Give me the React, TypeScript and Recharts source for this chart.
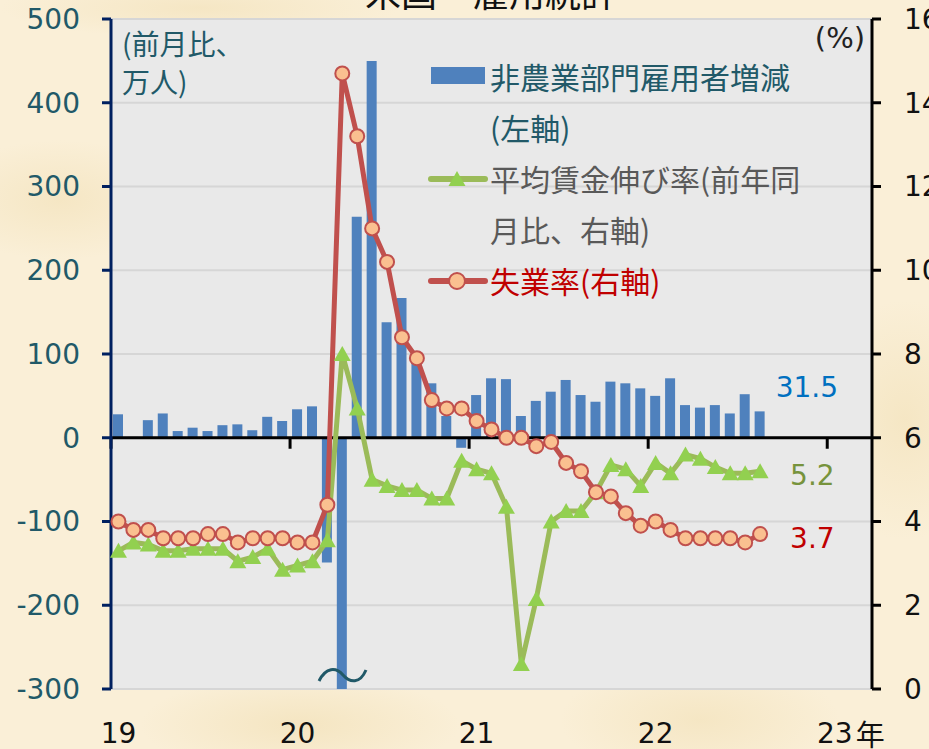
import React from "react";
import {
  ComposedChart,
  Bar,
  Line,
  XAxis,
  YAxis,
  CartesianGrid,
  ReferenceLine,
  Legend,
  LabelList,
} from "recharts";

// monthly, Jan 2019 .. Aug 2022
const payrolls = [
  28, 1, 21, 29, 8, 12, 8, 15, 16, 9, 25, 20,
  34, 37.5, -149, -2050, 264, 450, 138, 167, 90, 65, 26, -12,
  51, 71, 70, 26, 44, 55, 69, 51, 43, 67, 65, 59,
  50, 71, 39, 36, 39, 29, 52, 31.5,
];
const wageGrowth = [
  3.3, 3.5, 3.45, 3.3, 3.3, 3.35, 3.35, 3.35, 3.05, 3.15, 3.35, 2.85,
  2.95, 3.05, 3.55, 8.0, 6.7, 5.0, 4.85, 4.75, 4.75, 4.55, 4.55, 5.45,
  5.25, 5.15, 4.35, 0.6, 2.15, 4.0, 4.25, 4.25, 4.7, 5.35, 5.25, 4.85,
  5.4, 5.15, 5.6, 5.5, 5.3, 5.15, 5.15, 5.2,
];
const unemployment = [
  4.0, 3.8, 3.8, 3.6, 3.6, 3.6, 3.7, 3.7, 3.5, 3.6, 3.6, 3.6,
  3.5, 3.5, 4.4, 14.7, 13.2, 11.0, 10.2, 8.4, 7.9, 6.9, 6.7, 6.7,
  6.4, 6.2, 6.0, 6.0, 5.8, 5.9, 5.4, 5.2, 4.7, 4.6, 4.2, 3.9,
  4.0, 3.8, 3.6, 3.6, 3.6, 3.6, 3.5, 3.7,
];
const yearLabels = ["19", "20", "21", "22", "23"];
const leftTicks = [-300, -200, -100, 0, 100, 200, 300, 400, 500];
const rightTicks = [0, 2, 4, 6, 8, 10, 12, 14, 16];
const X_DOMAIN: [number, number] = [0, 51];

const data = payrolls.map((v, i) => ({
  x: i + 0.5,
  nfp: v,
  wage: wageGrowth[i],
  ur: unemployment[i],
}));
const last = payrolls.length - 1;
const yearStarts = yearLabels.map((_, i) => i * 12);

const JP = '"Noto Sans CJK JP", sans-serif';
const NUM = '"DejaVu Sans", sans-serif';
const TEAL = "#215968";

// paper-like backdrop
const paper = [
  "radial-gradient(ellipse 120px 60px at 60px 200px, rgba(236,214,160,0.35), transparent)",
  "radial-gradient(ellipse 160px 50px at 300px 725px, rgba(236,214,160,0.4), transparent)",
  "radial-gradient(ellipse 140px 60px at 700px 720px, rgba(236,214,160,0.35), transparent)",
  "radial-gradient(ellipse 90px 120px at 905px 420px, rgba(236,214,160,0.35), transparent)",
  "radial-gradient(ellipse 200px 30px at 200px 8px, rgba(236,214,160,0.35), transparent)",
  "#FAEFD7",
].join(", ");

function YearTick(props: any) {
  const { x, y, payload } = props;
  const i = Math.round((payload.value - 0.5) / 12);
  return (
    <g>
      <text x={x} y={y + 44} textAnchor="middle" dominantBaseline="central" fontFamily={NUM} fontSize={28} fill="#111">
        {yearLabels[i]}
      </text>
      {i === yearLabels.length - 1 && (
        <text x={x + 21} y={y + 44} dominantBaseline="central" fontFamily={JP} fontSize={29} fill="#111">
          年
        </text>
      )}
    </g>
  );
}

// zero line doubles as the x axis: draw it with the year ticks hanging below
function ZeroAxis(props: any) {
  const { x1, x2, y1 } = props;
  const span = X_DOMAIN[1] - X_DOMAIN[0];
  return (
    <g>
      <line x1={x1} x2={x2} y1={y1} y2={y1} stroke="#000" strokeWidth={3} />
      {yearStarts.map((m) => {
        const tx = x1 + ((x2 - x1) * (m - X_DOMAIN[0])) / span;
        return <line key={m} x1={tx} x2={tx} y1={y1} y2={y1 + 11} stroke="#000" strokeWidth={3} />;
      })}
    </g>
  );
}

function Triangle(props: any) {
  const { cx, cy, index } = props;
  if (cx == null || cy == null) return <g key={index} />;
  return (
    <path
      key={index}
      d={`M${cx},${cy - 8} L${cx + 8.5},${cy + 7} L${cx - 8.5},${cy + 7} Z`}
      fill="#92D050"
    />
  );
}

const endLabel = (color: string, dx: number, dy: number, fmt: (v: number) => string) =>
  (props: any) => {
    if (props.index !== last) return null;
    const vb = props.viewBox || {};
    const x = (props.x ?? vb.x) + (props.width ?? vb.width ?? 0);
    const y = props.y ?? vb.y;
    return (
      <text x={x + dx} y={y + dy} dominantBaseline="central" fontFamily={NUM} fontSize={28} fill={color}>
        {fmt(props.value)}
      </text>
    );
  };

function LegendBox() {
  const row: React.CSSProperties = { height: 51, display: "flex", alignItems: "center", whiteSpace: "nowrap" };
  const icon = { width: 62, height: 51, flex: "none" as const };
  return (
    <div style={{ fontFamily: JP, fontSize: 30, lineHeight: "51px" }}>
      <div style={{ ...row, color: TEAL }}>
        <svg style={icon}>
          <rect x={3} y={16} width={54} height={17} fill="#4F81BD" />
        </svg>
        非農業部門雇用者増減
      </div>
      <div style={{ ...row, color: TEAL, paddingLeft: 62 }}>(左軸)</div>
      <div style={{ ...row, color: "#595959" }}>
        <svg style={icon}>
          <line x1={3} x2={57} y1={26} y2={26} stroke="#9BBB59" strokeWidth={6} strokeLinecap="round" />
          <path d="M29,18 L37.5,33 L20.5,33 Z" fill="#92D050" />
        </svg>
        平均賃金伸び率(前年同
      </div>
      <div style={{ ...row, color: "#595959", paddingLeft: 62 }}>月比、右軸)</div>
      <div style={{ ...row, color: "#C00000" }}>
        <svg style={icon}>
          <line x1={3} x2={57} y1={26} y2={26} stroke="#C0504D" strokeWidth={6} strokeLinecap="round" />
          <circle cx={29} cy={26} r={8} fill="#FAC090" stroke="#C0504D" strokeWidth={2} />
        </svg>
        失業率(右軸)
      </div>
    </div>
  );
}

export default function App() {
  return (
    <div style={{ position: "absolute", left: 0, top: 0, width: 929, height: 749, background: paper, overflow: "hidden" }}>
      <ComposedChart width={929} height={749} data={data} margin={{ top: 19, right: 0, bottom: 0, left: 0 }}>
        <CartesianGrid yAxisId="left" vertical={false} fill="#E9E9E9" stroke="#D6D6D6" strokeWidth={2} />
        <XAxis
          dataKey="x"
          type="number"
          domain={X_DOMAIN}
          ticks={yearStarts.map((m) => m + 0.5)}
          height={60}
          axisLine={false}
          tickLine={false}
          tickSize={0}
          tickMargin={0}
          tick={<YearTick />}
          interval={0}
        />
        <YAxis
          yAxisId="left"
          width={111}
          domain={[-300, 500]}
          ticks={leftTicks}
          allowDataOverflow
          axisLine={{ stroke: "#002060", strokeWidth: 3 }}
          tickLine={{ stroke: "#002060", strokeWidth: 3 }}
          tickSize={9}
          tickMargin={22}
          tick={{ fill: TEAL, fontSize: 28, fontFamily: NUM }}
          interval={0}
        />
        <YAxis
          yAxisId="right"
          orientation="right"
          width={57}
          domain={[0, 16]}
          ticks={rightTicks}
          axisLine={{ stroke: "#000", strokeWidth: 3 }}
          tickLine={{ stroke: "#000", strokeWidth: 3 }}
          tickSize={9}
          tickMargin={23}
          tick={{ fill: "#111", fontSize: 28, fontFamily: NUM, textAnchor: "start" }}
          interval={0}
        />
        <Legend
          layout="vertical"
          align="center"
          verticalAlign="middle"
          wrapperStyle={{ left: 428, top: 51, width: 420, height: 260 }}
          content={() => <LegendBox />}
        />
        <Bar yAxisId="left" dataKey="nfp" fill="#4F81BD" barSize={10} isAnimationActive={false}>
          <LabelList dataKey="nfp" content={endLabel("#0070C0", 11, -24, (v) => v.toFixed(1))} />
        </Bar>
        <ReferenceLine yAxisId="left" y={0} shape={ZeroAxis} />
        <Line
          yAxisId="right"
          dataKey="wage"
          type="linear"
          stroke="#9BBB59"
          strokeWidth={5}
          dot={Triangle}
          activeDot={false}
          isAnimationActive={false}
        >
          <LabelList dataKey="wage" content={endLabel("#77933C", 30, 4, (v) => v.toFixed(1))} />
        </Line>
        <Line
          yAxisId="right"
          dataKey="ur"
          type="linear"
          stroke="#C0504D"
          strokeWidth={5}
          dot={{ r: 7, fill: "#FAC090", stroke: "#C0504D", strokeWidth: 2 }}
          activeDot={false}
          isAnimationActive={false}
        >
          <LabelList dataKey="ur" content={endLabel("#C00000", 30, 4, (v) => v.toFixed(1))} />
        </Line>
      </ComposedChart>
      <svg width={929} height={749} style={{ position: "absolute", left: 0, top: 0, pointerEvents: "none" }}>
        <text x={491} y={7} textAnchor="middle" fontFamily={JP} fontSize={36} fill="#111">
          米国　雇用統計
        </text>
        <text x={122} y={43} dominantBaseline="central" fontFamily={JP} fontSize={28} fill={TEAL}>
          (前月比、
        </text>
        <text x={122} y={81} dominantBaseline="central" fontFamily={JP} fontSize={28} fill={TEAL}>
          万人)
        </text>
        <text x={865} y={38} textAnchor="end" dominantBaseline="central" fontFamily={NUM} fontSize={29} fill="#222">
          (%)
        </text>
        <path
          d="M319,681 C326,667 336,667 343,675 C350,683 360,684 366,670"
          fill="none"
          stroke={TEAL}
          strokeWidth={3}
        />
      </svg>
    </div>
  );
}
